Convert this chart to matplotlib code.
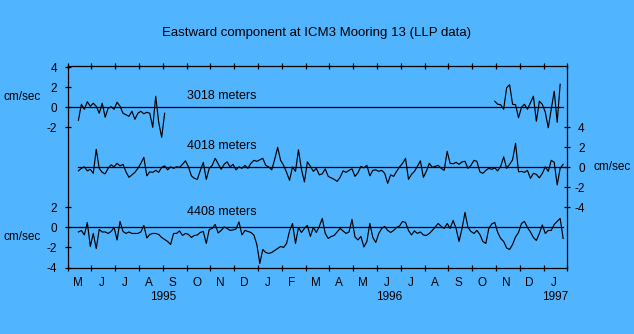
import numpy as np
import matplotlib
matplotlib.use('Agg')
import matplotlib.pyplot as plt
import matplotlib.transforms as mtransforms

plt.rcParams['font.family'] = ['Liberation Sans', 'DejaVu Sans']

title = 'Eastward component at ICM3 Mooring 13 (LLP data)'

# month letters along the bottom, May 1995 .. Jan 1997
months = ['M', 'J', 'J', 'A', 'S', 'O', 'N', 'D',
          'J', 'F', 'M', 'A', 'M', 'J', 'J', 'A', 'S', 'O', 'N', 'D',
          'J']
years = ['1995', '1996', '1997']
depths = ['3018 meters', '4018 meters', '4408 meters']

# eastward velocity (cm/sec), one sample every 1/8 month from mid May 1995
# 3018 m record has a gap: first piece May-Aug 1995, second piece Oct 1996-Jan 1997
u_3018_a = [-1.3, 0.3, -0.2, 0.55, 0.1, 0.4, 0.1, -0.6, 0.4, -1.0,
            -0.1, 0.05, -0.2, 0.5, 0.1, -0.6, -0.75, -0.9, -0.4, -1.2,
            -0.6, -0.4, -0.65, -0.5, -0.6, -2.0, 1.1, -1.5, -3.0, -0.6]
u_3018_b = [0.6, 0.3, 0.25, -0.2, 1.95, 2.25, 0.3, 0.25, -1.05, 0.0,
            0.3, -0.2, 0.45, 1.1, -1.4, 0.6, 0.3, -0.5, -2.05, -0.2,
            1.6, -1.5, 2.3]
u_4018 = [-0.35, -0.1, 0.05, -0.35, -0.2, -0.6, 1.8, -0.1, -0.5, -0.65,
          -0.1, 0.25, 0.05, 0.4, 0.15, 0.3, -0.45, -1.0, -0.75, -0.5,
          -0.1, 0.4, 1.0, -0.85, -0.45, -0.5, -0.3, -0.5, 0.0, 0.15,
          -0.25, 0.05, -0.1, 0.05, 0.0, 0.3, 0.65, 0.05, -0.85,
          -1.1, -1.2, -0.3, 0.5, -1.2, -0.1, 0.2, 0.9, 0.35, -0.2,
          0.3, 0.55, 0.05, 0.3, -0.25, 0.05, -0.1, 0.2, -0.1, 0.4,
          0.7, 0.6, 0.75, 0.9, 0.2, 0.05, -0.25, 0.8, 2.0, 0.7,
          0.2, -0.5, -1.3, 0.05, -0.4, 1.75, -0.2, -1.45, 0.55, 0.1,
          -0.4, -0.1,
          -0.75, -0.65, -0.15, -0.9, -1.05, -1.2, -1.4, -1.0, -0.35, -0.5,
          -0.3, -0.15, -0.9, -0.55, 0.1, -0.05, 0.2, -0.85, -0.3, -0.25,
          -0.4, -0.3, -0.6, -1.6, -0.75, -0.9, -0.4, 0.05, 0.4, 0.9,
          -1.2, -0.7, -0.4, 0.1, 0.65, -1.0, -0.4, 0.4, 0.0, 0.1,
          0.2, -0.1,
          -0.3, 1.6, 0.4, 0.35, 0.5, 0.3, 0.55, 0.6, -0.1, 0.2,
          0.7, 0.6, -0.45, -0.6, -0.3, -0.1, -0.2, -0.05, -0.35, 0.1,
          1.05, -0.1, 0.3, 0.75, 2.4, -0.45, -0.4, -0.5, -0.3, -1.1,
          -0.6, -0.7, -1.05, -0.6, 0.05, -0.4, 0.7, 0.5, -1.75, -0.1,
          0.3]
u_4408 = [-0.45, -0.3, -0.75, 0.5, -1.9, -0.6, -2.1, -0.2, -0.45, -0.45,
          -0.6, -0.4, 0.0, -1.25, 0.6, -0.4, -0.6, -0.45, -0.6, -0.6,
          -0.6, -0.45, 0.2, -1.05, -0.7, -0.6, -0.6, -0.7, -1.0, -1.2,
          -1.4, -1.7, -0.6, -0.6, -0.35, -0.8, -0.6, -0.7, -1.0,
          -0.8, -0.75, -0.5, -0.4, -1.6, -0.2, -0.1, 0.3, -0.55, -0.3,
          0.05, -0.1, -0.3, -0.25, -0.15, 0.55, -0.75, -0.3, -0.4, -0.5,
          -0.75, -1.7, -3.6, -2.2, -2.5, -2.6, -2.5, -2.3, -2.1, -1.9,
          -2.0, -1.6, -0.35, 0.4, -1.6, 0.0, -0.5, -0.1, 0.2, -0.9,
          0.0, -0.5,
          0.1, 0.9, -0.6, -1.1, -0.9, -0.8, -0.45, -0.1, -0.35, -0.6,
          -0.45, 0.8, -0.95, -1.25, -0.9, -1.95, -1.4, 0.4, -1.0, -1.5,
          -0.6, -0.1, 0.1, -0.3, -0.5, -0.3, 0.0, 0.15, 0.6, 0.5,
          -0.3, -0.75, -0.35, -0.6, -0.45, -0.75, -0.8, -0.6, -0.3, 0.05,
          0.4, 0.1,
          -0.1, 0.4, -0.1, 0.7, -0.1, -1.4, -0.1, 1.5, 0.0, -0.4,
          -0.6, -0.3, -0.7, -1.4, -1.6, -0.1, 0.35, 0.5, -0.5, -1.1,
          -1.4, -2.05, -2.2, -1.7, -0.95, -0.5, 0.4, 0.6, 0.0, -0.45,
          -1.0, -1.3, -0.6, 0.25, -0.6, -0.3, -0.3, 0.3, 0.6, 0.9,
          -1.1]

bg = '#50B4FF'
t0 = 0.45       # first sample, in months after 1 May 1995
dt = 1.0 / 8    # sample spacing in months
i_b = 140       # sample index where the second 3018 m piece starts
off = [12, 6, 0]  # vertical offset of each record

fig = plt.figure(figsize=(6.34, 3.34), dpi=100, facecolor=bg)
ax = fig.add_axes([67.7 / 634, 0.1991, 499.6 / 634, 0.6042])
ax.set_facecolor(bg)

t_a = t0 + dt * np.arange(len(u_3018_a))
t_b = t0 + dt * (i_b + np.arange(len(u_3018_b)))
t_mid = t0 + dt * np.arange(len(u_4018))
t_bot = t0 + dt * np.arange(len(u_4408))
t_end = t_mid[-1]

# zero lines
ax.plot([0, t_end], [off[0], off[0]], color='k', lw=0.9)
ax.plot([t0, 21], [off[1], off[1]], color='k', lw=0.9)
ax.plot([0, t_end], [off[2], off[2]], color='k', lw=0.9)

ax.plot(t_a, np.array(u_3018_a) + off[0], color='k', lw=0.85)
ax.plot(t_b, np.array(u_3018_b) + off[0], color='k', lw=0.85)
ax.plot(t_mid, np.array(u_4018) + off[1], color='k', lw=0.85)
ax.plot(t_bot, np.array(u_4408) + off[2], color='k', lw=0.85)

ax.set_xlim(0, 21)
ax.set_ylim(-4.0, 16.15)

for s in ax.spines.values():
    s.set_linewidth(0.9)

# month boundaries as ticks, letters in between
ax.set_xticks(np.arange(22))
ax.set_xticklabels([])
ax.set_xticks(np.arange(len(months)) + 0.42, minor=True)
ax.set_xticklabels(months, minor=True)
ax.tick_params(axis='x', which='major', direction='inout', length=5, width=0.9,
               top=True, bottom=True)
ax.tick_params(axis='x', which='minor', length=0, pad=7, labelsize=8.5)

ax.set_yticks([16, 14, 12, 10, 2, 0, -2, -4])
ax.set_yticklabels(['4', '2', '0', '-2', '2', '0', '-2', '-4'])
ax.tick_params(axis='y', direction='inout', length=5, width=0.9, labelsize=8.5,
               pad=5, right=False)

ax2 = ax.twinx()
ax2.set_ylim(ax.get_ylim())
ax2.set_yticks([10, 8, 6, 4, 2])
ax2.set_yticklabels(['4', '2', '0', '-2', '-4'])
for lbl in ax2.get_yticklabels():
    lbl.set_horizontalalignment('right')
ax2.tick_params(axis='y', direction='inout', length=5, width=0.9, labelsize=8.5,
                pad=10)
for s in ax2.spines.values():
    s.set_visible(False)

# depth labels
ax.text(5.0, off[0] + 1.13, depths[0], va='center', fontsize=9)
ax.text(5.0, off[1] + 2.14, depths[1], va='center', fontsize=9)
ax.text(5.0, off[2] + 1.54, depths[2], va='center', fontsize=9)

# years under the months
trans = mtransforms.blended_transform_factory(ax.transData, ax.transAxes)
for yr, xp in zip(years, [4.0, 13.5, 20.5]):
    ax.text(xp, -0.146, yr, transform=trans, ha='center', va='center', fontsize=8.5)

fig.text(0.5, 0.901, title, ha='center', va='center', fontsize=9.5)
fig.text(41 / 634, 1 - 97.3 / 334, 'cm/sec', ha='right', va='center', fontsize=8.5)
fig.text(41 / 634, 1 - 237.3 / 334, 'cm/sec', ha='right', va='center', fontsize=8.5)
fig.text(594 / 634, 1 - 167.3 / 334, 'cm/sec', ha='left', va='center', fontsize=8.5)

fig.savefig('out.png', dpi=100, facecolor=bg)
